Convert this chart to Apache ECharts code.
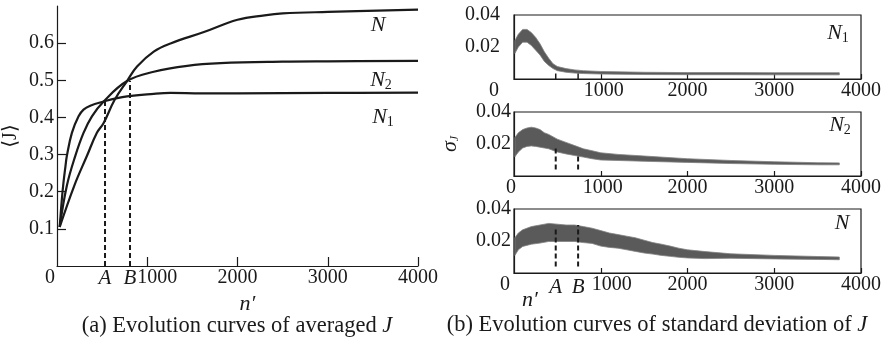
<!DOCTYPE html>
<html>
<head>
<meta charset="utf-8">
<script src="https://cdn.jsdelivr.net/npm/echarts@6/dist/echarts.min.js"></script>
<style>
  html, body { margin: 0; padding: 0; background: #fff; }
  #chart { width: 886px; height: 343px; }
</style>
</head>
<body>
<div id="chart"></div>
<script>
// ---- (a) averaged J ----
const nN1 = [30, 54, 72, 94, 109, 165, 239, 294, 369, 517, 776, 1072, 1258, 1600, 2000, 3000, 4000]
const jN1 = [0.105, 0.180, 0.225, 0.269, 0.296, 0.3585, 0.403, 0.421, 0.4316, 0.443, 0.4565, 0.4636, 0.466, 0.465, 0.465, 0.466, 0.467]
const nN2 = [30, 109, 202, 294, 387, 517, 776, 1072, 1443, 1813, 2500, 3000, 4000]
const jN2 = [0.105, 0.216, 0.296, 0.3585, 0.403, 0.443, 0.498, 0.523, 0.539, 0.546, 0.550, 0.551, 0.552]
const nN = [30, 191, 331, 442, 517, 639, 776, 887, 1072, 1258, 1628, 2000, 2300, 2500, 3000, 4000]
const jN = [0.105, 0.216, 0.296, 0.3585, 0.385, 0.4476, 0.498, 0.537, 0.577, 0.599, 0.630, 0.663, 0.675, 0.680, 0.684, 0.690]

// A / B markers (n', top of dashed line)
const markA = [532, 0.445]
const markB = [809, 0.498]

// ---- (b) standard deviation bands (upper / lower edge of the noisy trace) ----
const nS1 = [10, 50, 100, 150, 200, 250, 300, 350, 400, 450, 500, 600, 700, 800, 1000, 1500, 2000, 2500, 3000, 3500, 3750]
const upS1 = [0.024, 0.028, 0.031, 0.031, 0.029, 0.026, 0.022, 0.017, 0.013, 0.0095, 0.0078, 0.0065, 0.0057, 0.0052, 0.0047, 0.0042, 0.0040, 0.0040, 0.0039, 0.0039, 0.0039]
const loS1 = [0.016, 0.020, 0.023, 0.023, 0.021, 0.018, 0.015, 0.011, 0.0085, 0.0065, 0.0052, 0.0042, 0.0037, 0.0034, 0.0031, 0.0028, 0.0027, 0.0027, 0.0026, 0.0026, 0.0026]

const nS2 = [10, 50, 100, 150, 200, 250, 300, 350, 400, 500, 600, 700, 800, 900, 1000, 1200, 1500, 2000, 2500, 3000, 3500, 3750]
const upS2 = [0.024, 0.027, 0.029, 0.030, 0.0305, 0.030, 0.029, 0.027, 0.026, 0.023, 0.021, 0.019, 0.017, 0.0158, 0.0145, 0.0135, 0.0125, 0.0108, 0.0097, 0.0089, 0.0083, 0.0082]
const loS2 = [0.012, 0.015, 0.0175, 0.0185, 0.0188, 0.0185, 0.018, 0.0175, 0.017, 0.015, 0.0138, 0.0128, 0.0118, 0.0108, 0.0100, 0.0097, 0.0092, 0.0085, 0.0078, 0.0073, 0.0070, 0.0070]

const nS3 = [10, 50, 100, 200, 300, 400, 500, 600, 700, 800, 900, 1000, 1100, 1200, 1300, 1400, 1500, 1600, 1700, 1800, 1900, 2000, 2200, 2500, 3000, 3500, 3750]
const upS3 = [0.022, 0.025, 0.027, 0.029, 0.030, 0.031, 0.0305, 0.030, 0.030, 0.029, 0.028, 0.0265, 0.025, 0.024, 0.023, 0.022, 0.0205, 0.019, 0.018, 0.0168, 0.0155, 0.0145, 0.0134, 0.012, 0.011, 0.0103, 0.0100]
const loS3 = [0.011, 0.0145, 0.0166, 0.018, 0.0187, 0.0197, 0.0197, 0.0197, 0.0197, 0.019, 0.0185, 0.0168, 0.016, 0.0155, 0.0145, 0.0135, 0.0125, 0.0118, 0.011, 0.0104, 0.0098, 0.0094, 0.0090, 0.0092, 0.0088, 0.0085, 0.0083]

// A / B in panel (b): n' and [bottom, top] of the mark in each subplot
const markAb = 481
const markBb = 739
const markSpanA = [[0, 0.0035], [0.004, 0.0185], [0.004, 0.028]]
const markSpanB = [[0, 0.0035], [0.004, 0.0132], [0.004, 0.030]]

// tick labels
const xTicks = [0, 1000, 2000, 3000, 4000]
const xTickMarks = [1000, 2000, 3000, 4000]
const yTicksA = [0.1, 0.2, 0.3, 0.4, 0.5, 0.6]
const yTicksB = [0.02, 0.04]

const FONT = '"Liberation Serif", "Times New Roman", serif'
const INK = '#1a1a1a'
const TICK_FS = 20

const zip = (xs, ys) => xs.map((x, i) => [x, ys[i]])

// shift the "0" label left and the "1000" label right, as in the figure
function xAxisFor(gridIndex, shift0, shift1000, tickLen) {
  return {
    type: 'value', gridIndex, min: 0, max: 4000,
    axisLine: { show: true, lineStyle: { color: INK, width: 1.2 } },
    axisTick: { show: true, inside: true, length: tickLen, customValues: xTickMarks, lineStyle: { color: INK, width: 1.2 } },
    axisLabel: {
      customValues: xTicks, margin: 2, color: INK, fontFamily: FONT, fontSize: TICK_FS,
      formatter: v => v === 0 ? '{z|0}' : v === 1000 ? '{k|1000}' : String(v),
      rich: {
        z: { padding: [0, 2 * shift0, 0, 0] },
        k: { padding: [0, 0, 0, 2 * shift1000] }
      }
    },
    splitLine: { show: false }
  }
}

function yAxisB(gridIndex, margin, extra) {
  return Object.assign({
    type: 'value', gridIndex, min: 0, max: 0.04,
    axisLine: { show: true, lineStyle: { color: INK, width: 1.2 } },
    axisTick: { show: false },
    axisLabel: {
      customValues: yTicksB, margin, color: INK, fontFamily: FONT, fontSize: TICK_FS,
      formatter: v => v.toFixed(2)
    },
    splitLine: { show: false }
  }, extra || {})
}

function curve(n, j) {
  return {
    type: 'line', xAxisIndex: 0, yAxisIndex: 0, data: zip(n, j),
    smooth: 0.4, symbol: 'none',
    lineStyle: { color: INK, width: 2.2 }, silent: true, z: 4
  }
}

function dash(ax, n, y0, y1, label, dist, solid) {
  const first = label
    ? { value: [n, y0], label: { show: true, formatter: label, position: 'bottom', distance: dist, color: INK, fontFamily: FONT, fontSize: 21, fontStyle: 'italic' } }
    : [n, y0]
  return {
    type: 'line', xAxisIndex: ax, yAxisIndex: ax, data: [first, [n, y1]],
    symbol: 'circle', symbolSize: 0, silent: true, z: 5,
    lineStyle: { color: INK, width: solid ? 1.5 : 2, type: solid ? 'solid' : [5, 3] }
  }
}

// noisy trace drawn as a filled band between its upper and lower edges
function band(ax, n, up, lo) {
  return {
    type: 'custom', xAxisIndex: ax, yAxisIndex: ax, data: [[0, 0]], silent: true, z: 2,
    renderItem: (params, api) => {
      const top = n.map((x, i) => api.coord([x, up[i]]))
      const bot = n.map((x, i) => api.coord([x, lo[i]])).reverse()
      return {
        type: 'polygon',
        shape: { points: top.concat(bot) },
        style: { fill: '#5a5a5a', stroke: '#808080', lineWidth: 0.8 }
      }
    }
  }
}

function nLabel(x, y, sub) {
  return {
    type: 'text', x, y,
    style: {
      text: sub ? `{n|N}{s|${sub}}` : '{n|N}',
      align: 'center', verticalAlign: 'middle',
      rich: {
        n: { fontFamily: FONT, fontSize: 22, fontStyle: 'italic', fill: INK },
        s: { fontFamily: FONT, fontSize: 14, fill: INK, padding: [10, 0, 0, 0] }
      }
    }
  }
}

function caption(x, y, text) {
  return {
    type: 'text', x, y,
    style: {
      text, align: 'center', verticalAlign: 'middle',
      fontFamily: FONT, fontSize: 22.5, fill: INK,
      rich: { j: { fontFamily: FONT, fontSize: 22.5, fontStyle: 'italic', fill: INK } }
    }
  }
}

const chart = echarts.init(document.getElementById('chart'))

const option = {
  backgroundColor: '#fff',
  animation: false,
  grid: [
    { left: 57, top: 6, width: 361, height: 260 },
    { left: 514, top: 15, width: 347, height: 64, show: true, borderColor: INK, borderWidth: 1.2 },
    { left: 514, top: 112, width: 347, height: 64, show: true, borderColor: INK, borderWidth: 1.2 },
    { left: 514, top: 209, width: 347, height: 64, show: true, borderColor: INK, borderWidth: 1.2 }
  ],
  xAxis: [
    Object.assign(xAxisFor(0, 7, 10, 9), {
      name: 'n′', nameLocation: 'middle', nameGap: 27,
      nameTextStyle: { fontFamily: FONT, fontSize: 22, fontStyle: 'italic', color: INK, padding: [0, 0, 0, 20] }
    }),
    xAxisFor(1, 20, 3, 5),
    xAxisFor(2, 3, 2, 5),
    xAxisFor(3, 9, 11, 5)
  ],
  yAxis: [
    {
      type: 'value', gridIndex: 0, min: 0, max: 0.7,
      name: '⟨J⟩', nameLocation: 'middle', nameGap: 36, nameRotate: 90,
      nameTextStyle: { fontFamily: FONT + ', "DejaVu Serif"', fontSize: 20, color: INK },
      axisLine: { show: true, lineStyle: { color: INK, width: 1.2 } },
      axisTick: { show: true, inside: true, length: 9, customValues: yTicksA, lineStyle: { color: INK, width: 1.2 } },
      axisLabel: { customValues: yTicksA, margin: 3, color: INK, fontFamily: FONT, fontSize: TICK_FS, formatter: v => v.toFixed(1) },
      splitLine: { show: false }
    },
    yAxisB(1, 14),
    yAxisB(2, 3, {
      name: '{s|σ}{j|J}', nameLocation: 'middle', nameGap: 53, nameRotate: 90,
      nameTextStyle: {
        rich: {
          s: { fontFamily: FONT, fontSize: 22, fontStyle: 'italic', color: INK },
          j: { fontFamily: FONT, fontSize: 12, fontStyle: 'italic', color: INK, padding: [9, 0, 0, 0] }
        }
      }
    }),
    yAxisB(3, 3)
  ],
  series: [
    curve(nN1, jN1),
    curve(nN2, jN2),
    curve(nN, jN),
    dash(0, markA[0], 0, markA[1], 'A', 2),
    dash(0, markB[0], 0, markB[1], 'B', 2),
    band(1, nS1, upS1, loS1),
    band(2, nS2, upS2, loS2),
    band(3, nS3, upS3, loS3),
    dash(1, markAb, markSpanA[0][0], markSpanA[0][1], null, 0, true),
    dash(1, markBb, markSpanB[0][0], markSpanB[0][1], null, 0, true),
    dash(2, markAb, markSpanA[1][0], markSpanA[1][1]),
    dash(2, markBb, markSpanB[1][0], markSpanB[1][1]),
    dash(3, markAb, markSpanA[2][0], markSpanA[2][1], 'A', 10),
    dash(3, markBb, markSpanB[2][0], markSpanB[2][1], 'B', 10)
  ],
  graphic: [
    nLabel(378, 25),
    nLabel(381, 80, '2'),
    nLabel(383, 117, '1'),
    nLabel(838, 33, '1'),
    nLabel(840, 125, '2'),
    nLabel(842, 223),
    {
      type: 'text', x: 530, y: 300,
      style: { text: 'n′', fontFamily: FONT, fontSize: 22, fontStyle: 'italic', fill: INK, align: 'center', verticalAlign: 'middle' }
    },
    caption(237, 326, '(a) Evolution curves of averaged {j|J}'),
    caption(657, 325, '(b) Evolution curves of standard deviation of {j|J}')
  ]
}

chart.setOption(option)
</script>
</body>
</html>
